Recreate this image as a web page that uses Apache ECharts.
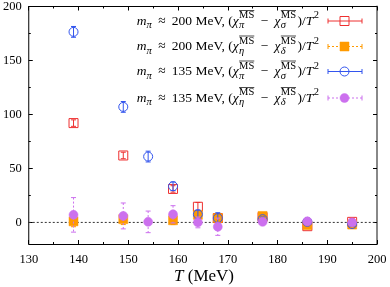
<!DOCTYPE html>
<html><head><meta charset="utf-8">
<script src="https://cdn.jsdelivr.net/npm/echarts@6/dist/echarts.min.js"></script>
<style>html,body{margin:0;padding:0;background:#fff}#c{width:390px;height:287px}</style>
</head><body><div id="c"></div>
<script>
// ---- data ----
const temps = [139, 149, 154, 159, 164, 168, 177, 186, 195];
const redT = [139, 149, 159, 164, 168, 177, 186, 195];
const redVal = [92, 62, 31, 14.5, 4, 5, -3.5, 0.5];
const redErr = [3, 3, 3, 4, 3, 2, 2, 3];
const orangeT = [139, 149, 159, 164, 168, 177, 186, 195];
const orangeVal = [1, 3, 2, 7, 4, 6, -2.5, -2];
const orangeErr = [5, 5, 4, 3, 3, 2, 2, 2];
const blueT = temps;
const blueVal = [176.5, 107, 61, 33.5, 7.5, 4, 3, 0.5, -1.5];
const blueErr = [5, 5, 5, 4, 4, 5, 2, 2, 2];
const purpleT = temps;
const purpleVal = [7, 6, 0.5, 7.5, 0, -4, 0.5, 1, 0];
const purpleErr = [16, 12, 10, 8, 5, 8, 2, 2, 2];
const xTicks = [130, 140, 150, 160, 170, 180, 190, 200];
const yTicks = [0, 50, 100, 150, 200];
const yMinorTicks = [25, 75, 125, 175];
const legendMass = ['200', '200', '135', '135'];
const legendSub1 = ['π', 'η', 'π', 'η'];
const legendSub2 = ['σ', 'δ', 'σ', 'δ'];

const RED = '#ee3030', ORANGE = '#ff9a00', BLUE = '#3355ee', PURPLE = '#cc70ee';
const SERIF = "'Liberation Serif', 'DejaVu Serif', serif";

function zip(t, v, e) { return t.map((x, i) => [x, v[i], e[i]]); }

function markerShapes(cx, cy, shape, filled, color) {
  const s = 4.5;
  if (shape === 'square') {
    return { type: 'rect', shape: { x: cx - s, y: cy - s, width: 2 * s, height: 2 * s },
      style: filled ? { fill: color, stroke: color, lineWidth: 0.5 } : { fill: 'rgba(0,0,0,0)', stroke: color, lineWidth: 1 } };
  }
  return { type: 'circle', shape: { cx: cx, cy: cy, r: s },
    style: filled ? { fill: color, stroke: color, lineWidth: 0.5 } : { fill: 'rgba(0,0,0,0)', stroke: color, lineWidth: 1 } };
}

function errRender(color, shape, filled, dashed) {
  return function (params, api) {
    const x = api.value(0), y = api.value(1), e = api.value(2);
    const p = api.coord([x, y]), pt = api.coord([x, y + e]), pb = api.coord([x, y - e]);
    const cw = 2.5;
    const ls = { stroke: color, lineWidth: 1, lineDash: dashed ? [2, 2] : null };
    const cs = { stroke: color, lineWidth: 1 };
    return { type: 'group', children: [
      { type: 'line', shape: { x1: p[0], y1: pt[1], x2: p[0], y2: pb[1] }, style: ls },
      { type: 'line', shape: { x1: p[0] - cw, y1: pt[1], x2: p[0] + cw, y2: pt[1] }, style: cs },
      { type: 'line', shape: { x1: p[0] - cw, y1: pb[1], x2: p[0] + cw, y2: pb[1] }, style: cs },
      markerShapes(p[0], p[1], shape, filled, color)
    ] };
  };
}

function series(name, data, color, shape, filled, dashed, z) {
  return { type: 'custom', name: name, data: data, z: z, xAxisIndex: 0, yAxisIndex: 0,
    renderItem: errRender(color, shape, filled, dashed), encode: { x: 0, y: 1 } };
}

// ---- legend text layout ----
const cvs = document.createElement('canvas');
const ctx = cvs.getContext('2d');
function font(size, it) { return (it ? 'italic ' : '') + size + 'px ' + SERIF; }
function w(t, size, it) { ctx.font = font(size, it); return ctx.measureText(t).width; }

const MAIN = 13.5, SMALL = 10.5, GAP = 6;
function rowPieces(i) {
  return [
    { t: 'm', it: true }, { t: 'π', sub: true, it: true },
    { gap: GAP }, { t: '≈' }, { gap: GAP }, { t: legendMass[i] + ' MeV, (' },
    { t: 'χ', it: true }, { stack: ['MS', legendSub1[i]] },
    { gap: GAP }, { t: '−' }, { gap: GAP },
    { t: 'χ', it: true }, { stack: ['MS', legendSub2[i]] }, { gap: 1 },
    { t: ')/' }, { t: 'T', it: true }, { t: '2', sup: true }
  ];
}
function layoutRow(pieces, xRight, yc) {
  const els = [];
  let total = 0;
  const ws = pieces.map(p => {
    let ww;
    if (p.gap) ww = p.gap;
    else if (p.stack) ww = Math.max(w(p.stack[0], SMALL, false), w(p.stack[1], SMALL, true)) + 1;
    else if (p.sub || p.sup) ww = w(p.t, SMALL, p.it) + 0.5;
    else ww = w(p.t, MAIN, p.it);
    total += ww; return ww;
  });
  let x = xRight - total;
  pieces.forEach((p, k) => {
    if (p.gap) { x += ws[k]; return; }
    if (p.stack) {
      const sw = w(p.stack[0], SMALL, false);
      els.push({ type: 'text', x: x + 0.5, y: yc - 5.5, style: { text: p.stack[0], font: font(SMALL, false), fill: '#000', verticalAlign: 'middle', align: 'left' } });
      els.push({ type: 'line', shape: { x1: x + 0.5, y1: yc - 10.5, x2: x + 0.5 + sw, y2: yc - 10.5 }, style: { stroke: '#000', lineWidth: 0.7 } });
      els.push({ type: 'text', x: x + 0.5, y: yc + 4.5, style: { text: p.stack[1], font: font(SMALL, true), fill: '#000', verticalAlign: 'middle', align: 'left' } });
    } else if (p.sub) {
      els.push({ type: 'text', x: x, y: yc + 4.5, style: { text: p.t, font: font(SMALL, p.it), fill: '#000', verticalAlign: 'middle', align: 'left' } });
    } else if (p.sup) {
      els.push({ type: 'text', x: x + 0.5, y: yc - 5.5, style: { text: p.t, font: font(SMALL, p.it), fill: '#000', verticalAlign: 'middle', align: 'left' } });
    } else {
      els.push({ type: 'text', x: x, y: yc, style: { text: p.t, font: font(MAIN, p.it), fill: '#000', verticalAlign: 'middle', align: 'left' } });
    }
    x += ws[k];
  });
  return els;
}
const legendRowsY = [21, 46.5, 71.5, 98];
const legendStyle = [[RED, 'square', false, false], [ORANGE, 'square', true, true], [BLUE, 'circle', false, false], [PURPLE, 'circle', true, true]];
const graphics = [];
legendRowsY.forEach((yc, i) => {
  graphics.push(...layoutRow(rowPieces(i), 319, yc));
  const [c, sh, f, d] = legendStyle[i];
  const x1 = 328, x2 = 362, xm = 344.5;
  graphics.push({ type: 'line', shape: { x1: x1, y1: yc, x2: x2, y2: yc }, style: { stroke: c, lineWidth: 1, lineDash: d ? [2, 2] : null } });
  graphics.push({ type: 'line', shape: { x1: x1, y1: yc - 2.5, x2: x1, y2: yc + 2.5 }, style: { stroke: c, lineWidth: 1 } });
  graphics.push({ type: 'line', shape: { x1: x2, y1: yc - 2.5, x2: x2, y2: yc + 2.5 }, style: { stroke: c, lineWidth: 1 } });
  graphics.push(markerShapes(xm, yc, sh, f, c));
});

// axis title
const titleParts = [{ t: 'T', it: true }, { t: ' (MeV)', it: false }];
let tw = 0; titleParts.forEach(p => tw += w(p.t, 17, p.it));
let tx = 204 - tw / 2;
titleParts.forEach(p => {
  graphics.push({ type: 'text', x: tx, y: 277, style: { text: p.t, font: font(17, p.it), fill: '#000', verticalAlign: 'middle', align: 'left' } });
  tx += w(p.t, 17, p.it);
});

const chart = echarts.init(document.getElementById('c'), null, { renderer: 'canvas' });
const axisBase = {
  type: 'value', splitLine: { show: false },
  axisLine: { show: true, onZero: false, lineStyle: { color: '#000', width: 1 } },
  axisTick: { show: true, inside: true, length: 4, lineStyle: { color: '#000' } }
};
chart.setOption({
  animation: false,
  backgroundColor: '#fff',
  grid: { left: 27, right: 13, top: 4, bottom: 43, containLabel: false },
  xAxis: [
    Object.assign({}, axisBase, { position: 'bottom', min: 130, max: 200, interval: 10,
      minorTick: { show: true, splitNumber: 2, length: 2, lineStyle: { color: '#000' } },
      axisLabel: { show: true, color: '#000', fontFamily: SERIF, fontSize: 12.5, margin: 9, customValues: xTicks } }),
    Object.assign({}, axisBase, { position: 'top', min: 130, max: 200, interval: 10,
      minorTick: { show: true, splitNumber: 2, length: 2, lineStyle: { color: '#000' } },
      axisLabel: { show: false } })
  ],
  yAxis: [
    Object.assign({}, axisBase, { position: 'left', min: -20, max: 200,
      axisTick: { show: true, inside: true, length: 4, lineStyle: { color: '#000' }, customValues: yTicks },
      axisLabel: { show: true, color: '#000', fontFamily: SERIF, fontSize: 12.5, margin: 7, customValues: yTicks } }),
    Object.assign({}, axisBase, { position: 'right', min: -20, max: 200,
      axisLine: { show: true, onZero: false, lineStyle: { color: '#888', width: 2 } },
      axisTick: { show: true, inside: true, length: 4, lineStyle: { color: '#000' }, customValues: yTicks },
      axisLabel: { show: false } }),
    Object.assign({}, axisBase, { position: 'left', min: -20, max: 200,
      axisLine: { show: false },
      axisTick: { show: true, inside: true, length: 2, lineStyle: { color: '#000' }, customValues: yMinorTicks },
      axisLabel: { show: false } }),
    Object.assign({}, axisBase, { position: 'right', min: -20, max: 200,
      axisLine: { show: false },
      axisTick: { show: true, inside: true, length: 2, lineStyle: { color: '#000' }, customValues: yMinorTicks },
      axisLabel: { show: false } })
  ],
  series: [
    { type: 'line', data: [[130, 0], [200, 0]], symbol: 'none', silent: true, z: 1,
      lineStyle: { color: '#333', width: 1, type: [2, 2] } },
    series('red', zip(redT, redVal, redErr), RED, 'square', false, false, 2),
    series('orange', zip(orangeT, orangeVal, orangeErr), ORANGE, 'square', true, true, 3),
    series('blue', zip(blueT, blueVal, blueErr), BLUE, 'circle', false, false, 4),
    series('purple', zip(purpleT, purpleVal, purpleErr), PURPLE, 'circle', true, true, 5)
  ],
  graphic: graphics
});
</script></body></html>
